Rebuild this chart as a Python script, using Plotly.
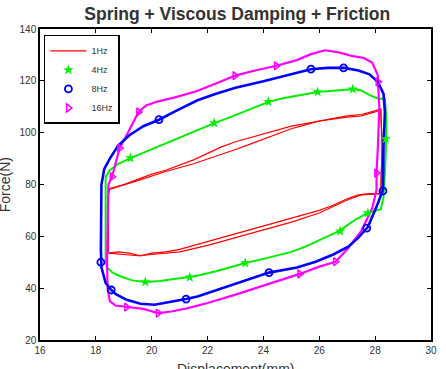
import plotly.graph_objects as go

# ---------------- data ----------------
# 1 Hz loop, cycle A
red_x = [18.45, 18.45, 18.5, 19.0, 19.5, 20.0, 20.5, 21.0, 21.5, 22.0, 22.5, 23.0, 23.5, 24.0, 24.5,
         25.0, 25.5, 26.0, 26.5, 27.0, 27.5, 28.0, 28.2, 28.25, 28.2,
         27.8, 27.4, 27.0, 26.5, 26.0, 25.5, 25.0, 24.5, 24.0, 23.5, 23.0, 22.5, 22.0, 21.5, 21.0,
         20.5, 20.0, 19.6, 19.2, 18.8, 18.45]
red_y = [54.0, 76.0, 78.5, 80.0, 82.0, 84.0, 85.5, 87.5, 89.5, 92.0, 94.5, 96.5, 98.0, 99.5, 101.0,
         102.5, 103.5, 104.5, 105.5, 106.5, 107.0, 108.5, 109.0, 95.0, 76.5,
         76.5, 76.0, 74.5, 72.0, 70.0, 68.5, 67.0, 65.5, 64.0, 62.5, 61.0, 59.5, 58.0, 56.5, 55.0,
         54.0, 53.5, 52.5, 53.5, 54.0, 53.5]
# 1 Hz loop, cycle B
red2_x = [18.45, 18.45, 19.5, 20.5, 21.5, 22.5, 23.0, 23.5, 24.0, 24.5, 25.0, 25.5, 26.0, 27.0, 27.5,
          28.0, 28.2, 28.25, 28.2, 27.5, 27.0, 26.0, 25.0, 24.0, 23.0, 22.0, 21.0, 20.0, 19.5, 18.45]
red2_y = [54.0, 78.0, 81.5, 85.0, 88.0, 91.5, 93.5, 95.5, 97.5, 99.5, 101.5, 103.0, 104.5, 106.0, 106.5,
          108.0, 109.0, 95.0, 76.5, 76.0, 74.0, 69.0, 65.5, 62.5, 59.5, 56.5, 54.0, 53.0, 52.5, 53.5]

# 4 Hz loop
green_x = [18.35, 18.35, 18.5, 18.8, 19.24, 19.7, 20.2, 20.7, 21.2, 21.7, 22.24, 22.7, 23.2, 23.7, 24.18,
           24.7, 25.3, 25.94, 26.5, 27.2, 27.5, 27.8, 28.1, 28.35, 28.4, 28.4, 28.35, 28.3, 28.2,
           27.74, 27.3, 26.7, 26.2, 25.5, 25.0, 24.5, 24.0, 23.35, 22.8, 22.3, 21.7, 21.36, 20.8,
           20.3, 19.77, 19.3, 18.9, 18.6, 18.4, 18.35]
green_y = [50.0, 83.0, 85.5, 88.0, 90.2, 92.3, 94.5, 96.8, 99.2, 101.5, 103.7, 105.5, 107.7, 109.8, 111.9,
           113.3, 114.5, 115.7, 116.2, 116.8, 116.3, 114.5, 113.2, 113.0, 105.0, 97.6, 85.0, 75.0, 70.5,
           69.0, 66.5, 62.0, 59.5, 56.0, 54.0, 52.5, 51.3, 49.7, 48.0, 46.5, 45.0, 44.3, 43.5,
           42.8, 42.4, 43.0, 44.5, 46.0, 48.0, 50.0]
green_mx = [19.24, 22.24, 24.18, 25.94, 27.2, 28.38, 27.74, 26.75, 23.35, 21.36, 19.77]
green_my = [90.2, 103.7, 111.9, 115.7, 116.8, 97.6, 69.0, 62.0, 49.7, 44.2, 42.4]

# 8 Hz loop
blue_x = [18.18, 18.2, 18.3, 18.5, 18.8, 19.2, 19.7, 20.26, 20.8, 21.64, 22.3, 23.0, 24.0, 24.8, 25.7,
          26.3, 26.9, 27.4, 27.8, 28.1, 28.3, 28.35, 28.3, 28.28, 28.1, 27.74, 27.4, 27.04, 26.5,
          25.87, 25.2, 24.2, 23.5, 22.8, 22.0, 21.64, 21.23, 20.6, 20.1, 19.6, 19.1, 18.7, 18.55,
          18.35, 18.2, 18.18]
blue_y = [55.0, 80.0, 86.0, 90.0, 95.0, 99.0, 102.5, 105.0, 108.0, 112.5, 115.0, 117.3, 119.8, 122.0, 124.5,
          125.0, 125.0, 124.0, 122.5, 119.5, 115.0, 108.0, 95.0, 78.0, 72.8, 63.6, 59.5, 56.0, 53.0,
          50.2, 48.0, 46.0, 43.5, 41.0, 38.0, 36.8, 35.8, 34.5, 33.6, 34.0, 35.5, 37.8, 39.3,
          42.0, 48.0, 55.0]
blue_mx = [20.26, 25.7, 26.87, 28.28, 27.7, 24.2, 21.23, 18.55, 18.18]
blue_my = [105.0, 124.5, 125.0, 77.5, 63.2, 46.0, 35.8, 39.3, 50.0]

# 16 Hz loop
mag_x = [18.4, 18.45, 18.58, 18.7, 18.85, 19.1, 19.3, 19.53, 19.8, 20.2, 20.8, 21.6, 22.3, 22.98, 23.7,
         24.46, 25.2, 25.7, 26.2, 26.7, 27.2, 27.6, 27.9, 28.1, 28.1, 28.15, 28.1, 28.05, 28.05,
         27.9, 27.5, 27.0, 26.58, 26.0, 25.3, 24.6, 24.0, 23.0, 22.0, 21.3, 20.7, 20.23, 19.7,
         19.1, 18.7, 18.5, 18.42, 18.4]
mag_y = [50.0, 80.0, 83.0, 88.0, 94.0, 99.0, 103.0, 108.0, 110.5, 112.0, 113.5, 116.0, 119.0, 122.0, 124.0,
         125.8, 128.0, 130.3, 131.8, 131.0, 129.5, 128.8, 127.0, 122.0, 119.6, 110.0, 95.0, 84.4, 78.0,
         71.0, 62.0, 55.0, 50.2, 48.3, 45.5, 43.0, 41.0, 37.5, 34.3, 32.3, 31.0, 30.4, 32.0,
         32.7, 33.3, 35.0, 40.0, 50.0]
mag_mx = [18.58, 18.85, 19.53, 22.98, 24.46, 28.1, 28.05, 26.58, 25.3, 20.23, 19.1]
mag_my = [83.0, 94.0, 108.0, 122.0, 125.8, 119.6, 84.4, 50.2, 45.5, 30.4, 32.7]

x_ticks = [16, 18, 20, 22, 24, 26, 28, 30]
y_ticks = [20, 40, 60, 80, 100, 120, 140]

RED, GREEN, BLUE, MAG = "#FF0000", "#00F000", "#0000FF", "#FF00FF"

fig = go.Figure()
fig.add_trace(go.Scatter(x=red_x, y=red_y, mode="lines", name="1Hz",
                         line=dict(color=RED, width=1.2)))
fig.add_trace(go.Scatter(x=red2_x, y=red2_y, mode="lines", showlegend=False,
                         line=dict(color=RED, width=1.2)))
fig.add_trace(go.Scatter(x=green_x, y=green_y, mode="lines", showlegend=False,
                         line=dict(color=GREEN, width=2)))
fig.add_trace(go.Scatter(x=mag_x, y=mag_y, mode="lines", showlegend=False,
                         line=dict(color=MAG, width=2.2)))
fig.add_trace(go.Scatter(x=blue_x, y=blue_y, mode="lines", showlegend=False,
                         line=dict(color=BLUE, width=2.6)))
fig.add_trace(go.Scatter(x=green_mx, y=green_my, mode="markers", name="4Hz",
                         marker=dict(symbol="star", color=GREEN, size=8, line=dict(width=0))))
fig.add_trace(go.Scatter(x=blue_mx, y=blue_my, mode="markers", name="8Hz",
                         marker=dict(symbol="circle-open", color=BLUE, size=7, line=dict(width=1.8))))
fig.add_trace(go.Scatter(x=mag_mx, y=mag_my, mode="markers", name="16Hz",
                         marker=dict(symbol="triangle-right-open", color=MAG, size=7, line=dict(width=1.5))))

axis_common = dict(showline=True, linecolor="black", linewidth=1.5, mirror="ticks",
                   ticks="inside", ticklen=4, tickcolor="black", tickwidth=1,
                   showgrid=False, zeroline=False,
                   tickfont=dict(family="Arial, Liberation Sans", size=10, color="#333333"))

fig.update_layout(
    width=446, height=369,
    margin=dict(l=40, r=9, t=29, b=29),
    paper_bgcolor="white", plot_bgcolor="white",
    title=dict(text="<b>Spring + Viscous Damping + Friction</b>", x=0.532, xanchor="center",
               y=0.962, yanchor="middle",
               font=dict(family="Arial, Liberation Sans", size=17.5, color="#333333")),
    xaxis=dict(range=[16, 30], tickvals=x_ticks, **axis_common),
    yaxis=dict(range=[20, 140], tickvals=y_ticks, **axis_common),
    legend=dict(x=0.01, y=0.981, xanchor="left", yanchor="top",
                bgcolor="white", bordercolor="black", borderwidth=1.5,
                font=dict(family="Arial, Liberation Sans", size=9, color="#333333"),
                tracegroupgap=0, itemwidth=36),
    showlegend=True,
    annotations=[
        dict(text="Displacement(mm)", xref="paper", yref="paper", x=0.5, y=-0.062,
             xanchor="center", yanchor="top", showarrow=False,
             font=dict(family="Arial, Liberation Sans", size=14, color="#333333")),
        dict(text="Force(N)", xref="paper", yref="paper", x=-0.09, y=0.5,
             xanchor="center", yanchor="middle", textangle=-90, showarrow=False,
             font=dict(family="Arial, Liberation Sans", size=14, color="#333333")),
    ],
)

fig.write_html("out.html")
